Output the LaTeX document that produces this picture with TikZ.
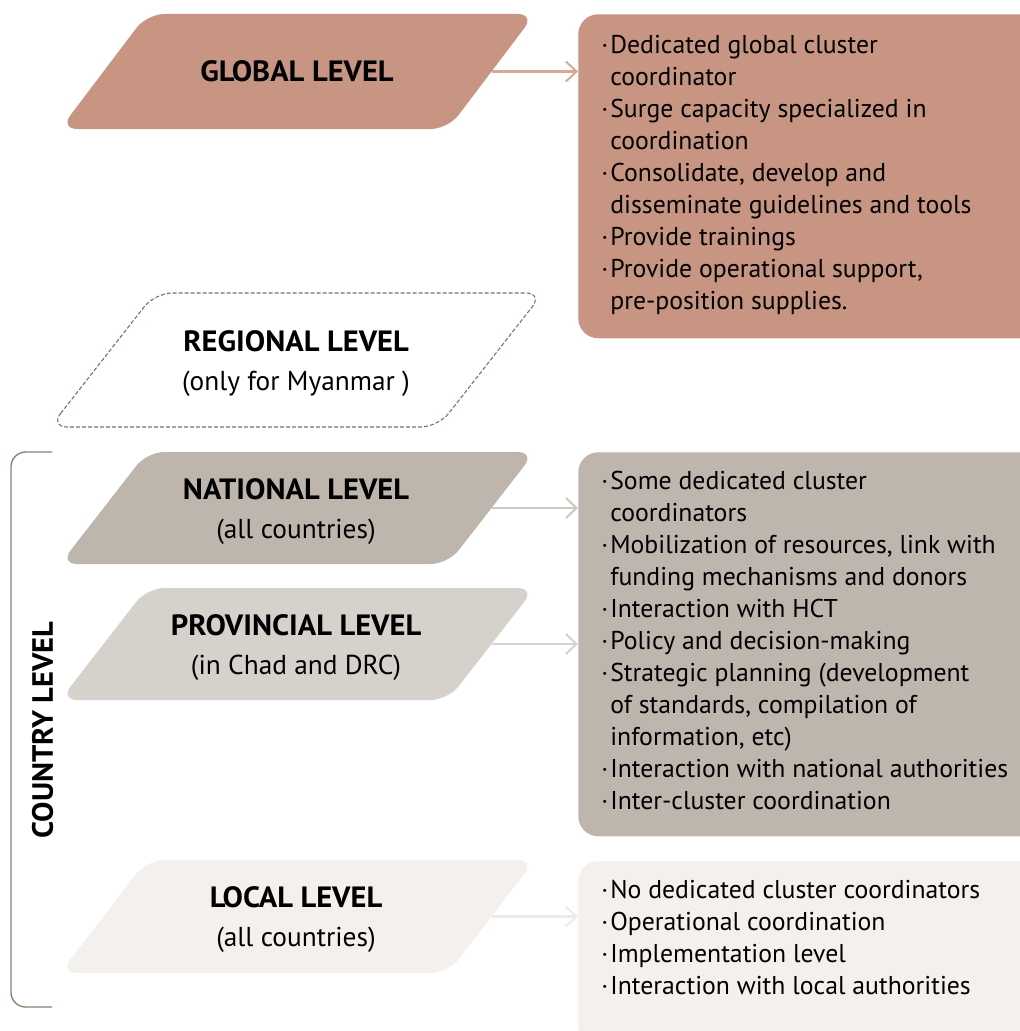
\documentclass[tikz,border=0pt]{standalone}
\usepackage{fontspec}
\setmainfont{PT Sans}[BoldFeatures={FakeStretch=1.04}]
\usetikzlibrary{arrows.meta,calc}
\definecolor{globalc}{RGB}{199,149,130}
\definecolor{globalarr}{RGB}{214,168,150}
\definecolor{nationalc}{RGB}{190,182,173}
\definecolor{nationalarr}{RGB}{208,201,194}
\definecolor{provc}{RGB}{214,209,203}
\definecolor{provarr}{RGB}{216,211,205}
\definecolor{localc}{RGB}{243,240,237}
\definecolor{localarr}{RGB}{238,234,230}
\definecolor{bracketc}{RGB}{140,126,112}
\definecolor{regc}{RGB}{125,112,100}
\newcommand{\bul}{\makebox[6.8pt][l]{·}}
\newcommand{\ind}{\hspace*{6.8pt}}
\begin{document}
\begin{tikzpicture}[x=0.75pt,y=-0.75pt,
  ttl/.style={anchor=base,inner sep=0pt,font=\fontsize{22}{26}\selectfont\bfseries},
  sub/.style={anchor=base,inner sep=0pt,font=\fontsize{20.5}{24}\selectfont},
  txt/.style={align=left,inner sep=0pt,anchor=north west,font=\fontsize{19.3}{24}\selectfont},
  panel/.style={rounded corners=15pt,inner sep=0pt,anchor=north west,minimum width=352pt},
  para/.style={rounded corners=13pt},
  arr/.style={line width=2pt,-{Straight Barb[length=8pt,width=15pt,line width=1.5pt]}}]
\useasboundingbox (0,0) rectangle (1020,1031);
\clip (0,0) rectangle (1020,1031);

% ---------- GLOBAL ----------
\fill[globalc,para] (60,129) -- (147,14) -- (535,14) -- (448,129) -- cycle;
\coordinate (gR) at (491.5,71.5);
\node[ttl] (gl) at (297,82) {GLOBAL LEVEL};
\node[panel,fill=globalc,minimum height=243pt] (gbox) at (578,14) {};
\node[txt] (gtxt) at (601,35) {%
\bul Dedicated global cluster\\
\ind coordinator\\
\bul Surge capacity specialized in\\
\ind coordination\\
\bul Consolidate, develop and\\
\ind disseminate guidelines and tools\\
\bul Provide trainings\\
\bul Provide operational support,\\
\ind pre-position supplies.};
\draw[arr,globalarr] (gR) -- (gR -| gbox.west);

% ---------- REGIONAL ----------
\draw[regc,line width=0.8pt,dash pattern=on 3pt off 1.5pt,para] (50,427) -- (155,293) -- (543,293) -- (438,427) -- cycle;
\node[ttl] (rl) at (296,351) {REGIONAL LEVEL};
\node[sub] (rls) at (296,390) {(only for Myanmar )};

% ---------- NATIONAL ----------
\fill[nationalc,para] (60,564) -- (147,452) -- (535,452) -- (448,564) -- cycle;
\coordinate (nR) at (491.5,508);
\node[ttl] (nl) at (296,499) {NATIONAL LEVEL};
\node[sub] (nls) at (296,538) {(all countries)};
\node[panel,fill=nationalc,minimum height=288pt] (nbox) at (578,452) {};
\node[txt] (ntxt) at (601,471) {%
\bul Some dedicated cluster\\
\ind coordinators\\
\bul Mobilization of resources, link with\\
\ind funding mechanisms and donors\\
\bul Interaction with HCT\\
\bul Policy and decision-making\\
\bul Strategic planning (development\\
\ind of standards, compilation of\\
\ind information, etc)\\
\bul Interaction with national authorities\\
\bul Inter-cluster coordination};
\draw[arr,nationalarr] (nR) -- (nR -| nbox.west);

% ---------- PROVINCIAL ----------
\fill[provc,para] (60,700) -- (147,588) -- (535,588) -- (448,700) -- cycle;
\coordinate (pR) at (491.5,644);
\node[ttl] (pl) at (296,635) {PROVINCIAL LEVEL};
\node[sub] (pls) at (296,674) {(in Chad and DRC)};
\draw[arr,provarr] (pR) -- (pR -| nbox.west);

% ---------- LOCAL ----------
\fill[localc,para] (60,973) -- (147,860) -- (535,860) -- (448,973) -- cycle;
\coordinate (lR) at (491.5,916.5);
\node[ttl] (ll) at (296,907) {LOCAL LEVEL};
\node[sub] (lls) at (296,946) {(all countries)};
\node[panel,fill=localc,minimum height=140pt] (lbox) at (578,861) {};
\node[txt] (ltxt) at (601,880) {%
\bul No dedicated cluster coordinators\\
\bul Operational coordination\\
\bul Implementation level\\
\bul Interaction with local authorities};
\draw[arr,localarr] (lR) -- (lR -| lbox.west);

% ---------- COUNTRY BRACKET ----------
\draw[bracketc,line width=1pt,rounded corners=11pt] (52,452) -- (11,452) -- (11,1007) -- (52,1007);
\node[rotate=90,inner sep=0pt,font=\fontsize{22}{26}\selectfont\bfseries] (cl) at (42.5,730) {COUNTRY LEVEL};
\end{tikzpicture}
\end{document}
